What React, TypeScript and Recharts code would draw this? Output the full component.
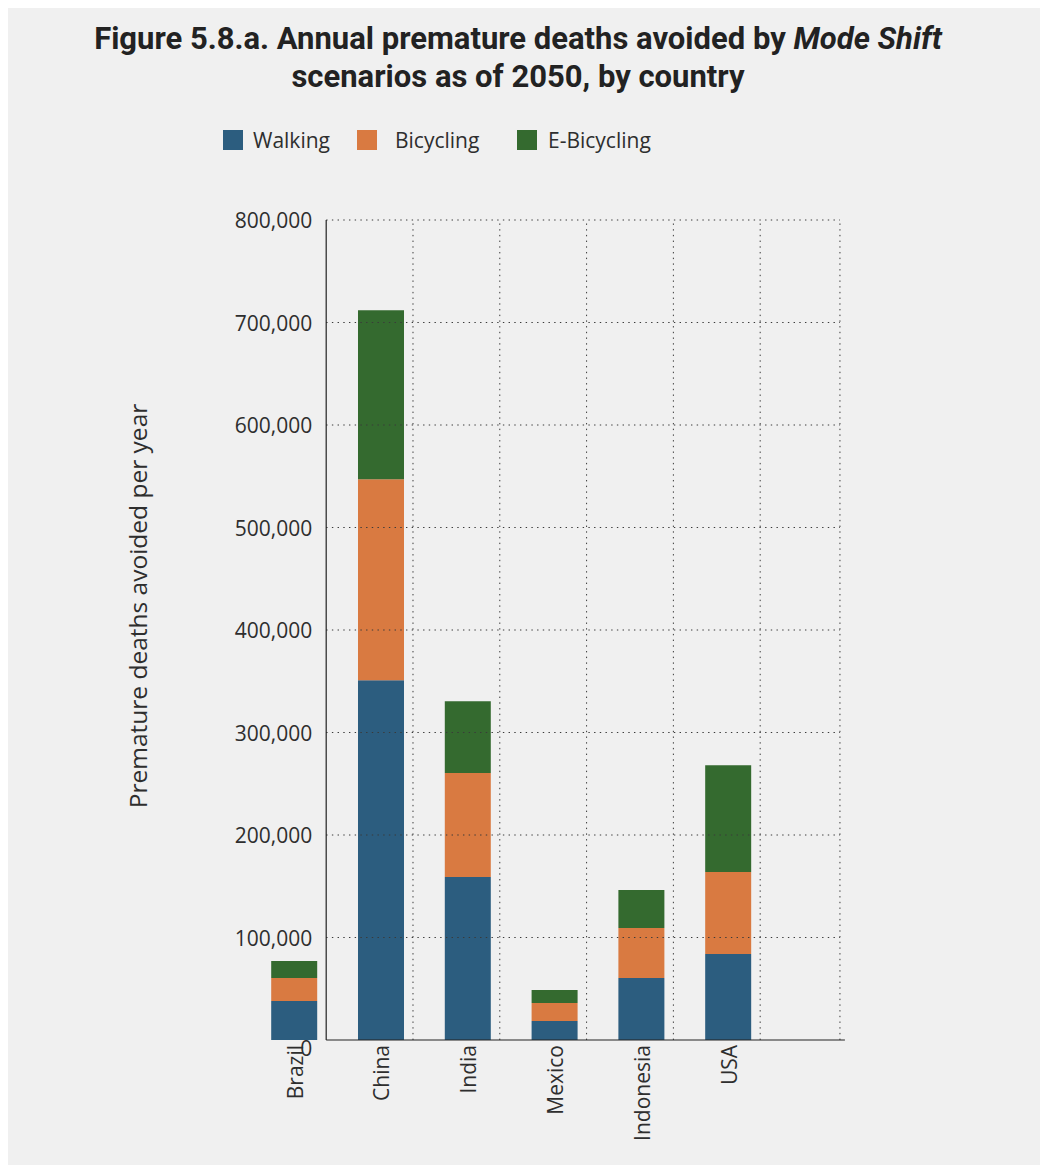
import React from 'react';
import { ComposedChart, Bar, XAxis, YAxis, ReferenceLine } from 'recharts';

// ---- data ----
const countries = ['Brazil', 'China', 'India', 'Mexico', 'Indonesia', 'USA'];
const walking = [38000, 351000, 159000, 18500, 60500, 84000];
const bicycling = [22400, 196000, 101500, 17600, 48800, 80000];
const eBicycling = [16600, 165000, 70000, 12700, 37000, 104000];
const yTicks = [0, 100000, 200000, 300000, 400000, 500000, 600000, 700000, 800000];
const seriesNames = ['Walking', 'Bicycling', 'E-Bicycling'];
const seriesKeys = ['walking', 'bicycling', 'eBicycling'];
const seriesColors = ['#2c5d7f', '#d97a41', '#346a2f'];

const data = countries.map((c, i) => ({
  idx: i,
  country: c,
  walking: walking[i],
  bicycling: bicycling[i],
  eBicycling: eBicycling[i],
}));

// ---- layout (category boundaries sit offset from the bar centres, as in the source) ----
const GRID_OFFSET = 0.364;
const GRID_RIGHT = 6.283;
const AXIS_END = 6.34;
const X_DOMAIN = [-0.5, AXIS_END];
const gridXs = countries.map((_, i) => i + GRID_OFFSET).slice(1).concat([GRID_RIGHT]);

const FONT = "'Open Sans', 'Noto Sans', sans-serif";
const TEXT = '#2e2e2e';
const DOT = '#3a3a3a';
const DASH = '1.4 4.3';

const fmt = (v: number) => v.toLocaleString('en-US');

const XTick = (props: any) => {
  const { x, y, payload } = props;
  const ty = y + 5;
  return (
    <text
      x={x}
      y={ty}
      transform={`rotate(-90, ${x}, ${ty})`}
      textAnchor="end"
      dominantBaseline="central"
      fontFamily={FONT}
      fontSize={21}
      fill={TEXT}
    >
      {countries[payload.value]}
    </text>
  );
};

const YTick = (props: any) => {
  const { x, y, payload } = props;
  const isZero = payload.value === 0;
  return (
    <text
      x={x + 61}
      y={y + (isZero ? 8 : 0)}
      textAnchor="end"
      dominantBaseline="central"
      fontFamily={FONT}
      fontSize={21}
      fill={TEXT}
    >
      {fmt(payload.value)}
    </text>
  );
};

const legendItems = [
  { sw: 215, tx: 245 },
  { sw: 349, tx: 387 },
  { sw: 509, tx: 540 },
];

export default function App() {
  return (
    <div
      style={{
        position: 'relative',
        width: 1033,
        height: 1157,
        background: '#f0f0f0',
        fontFamily: FONT,
        color: TEXT,
      }}
    >
      <div
        style={{
          position: 'absolute',
          left: 0,
          top: 12,
          width: 1020,
          textAlign: 'center',
          fontFamily: "'Liberation Sans Narrow', 'Roboto', sans-serif",
          fontWeight: 700,
          fontSize: 31,
          lineHeight: '38px',
          color: '#222',
        }}
      >
        Figure 5.8.a. Annual premature deaths avoided by <i>Mode Shift</i>
        <br />
        scenarios as of 2050, by country
      </div>

      {seriesNames.map((name, i) => (
        <React.Fragment key={name}>
          <div
            style={{
              position: 'absolute',
              left: legendItems[i].sw,
              top: 122,
              width: 20,
              height: 20,
              background: seriesColors[i],
            }}
          />
          <div
            style={{
              position: 'absolute',
              left: legendItems[i].tx,
              top: 117,
              fontSize: 21,
              lineHeight: '30px',
              whiteSpace: 'nowrap',
              color: TEXT,
            }}
          >
            {name}
          </div>
        </React.Fragment>
      ))}

      <div
        style={{
          position: 'absolute',
          left: 129,
          top: 598,
          transform: 'translate(-50%, -50%) rotate(-90deg)',
          whiteSpace: 'nowrap',
          fontSize: 24.5,
          color: TEXT,
        }}
      >
        Premature deaths avoided per year
      </div>

      <div style={{ position: 'absolute', left: 0, top: 0 }}>
        <ComposedChart
          width={1033}
          height={1157}
          data={data}
          margin={{ top: 212, right: 196.1, bottom: 25, left: 183.2 }}
        >
          <XAxis
            type="number"
            dataKey="idx"
            domain={X_DOMAIN}
            allowDataOverflow
            ticks={countries.map((_, i) => i)}
            interval={0}
            height={100}
            axisLine={false}
            tickLine={false}
            tickSize={0}
            tickMargin={0}
            tick={<XTick />}
          />
          <YAxis
            type="number"
            domain={[0, 800000]}
            allowDataOverflow
            ticks={yTicks}
            interval={0}
            width={60}
            axisLine={false}
            tickLine={false}
            tickSize={0}
            tickMargin={0}
            tick={<YTick />}
          />
          {yTicks.slice(1).map((v) => (
            <ReferenceLine
              key={'h' + v}
              segment={[
                { x: GRID_OFFSET, y: v },
                { x: GRID_RIGHT, y: v },
              ]}
              stroke={DOT}
              strokeDasharray={DASH}
              strokeWidth={1}
            />
          ))}
          {gridXs.map((gx) => (
            <ReferenceLine
              key={'v' + gx}
              x={gx}
              stroke={DOT}
              strokeDasharray={DASH}
              strokeWidth={1}
            />
          ))}
          {seriesKeys.map((k, i) => (
            <Bar
              key={k}
              dataKey={k}
              name={seriesNames[i]}
              stackId="a"
              fill={seriesColors[i]}
              barSize={46}
              isAnimationActive={false}
            />
          ))}
          <ReferenceLine x={GRID_OFFSET} stroke="#222" strokeWidth={1.2} />
          <ReferenceLine
            segment={[
              { x: GRID_OFFSET, y: 0 },
              { x: AXIS_END, y: 0 },
            ]}
            stroke="#222"
            strokeWidth={1.2}
          />
        </ComposedChart>
      </div>
    </div>
  );
}
